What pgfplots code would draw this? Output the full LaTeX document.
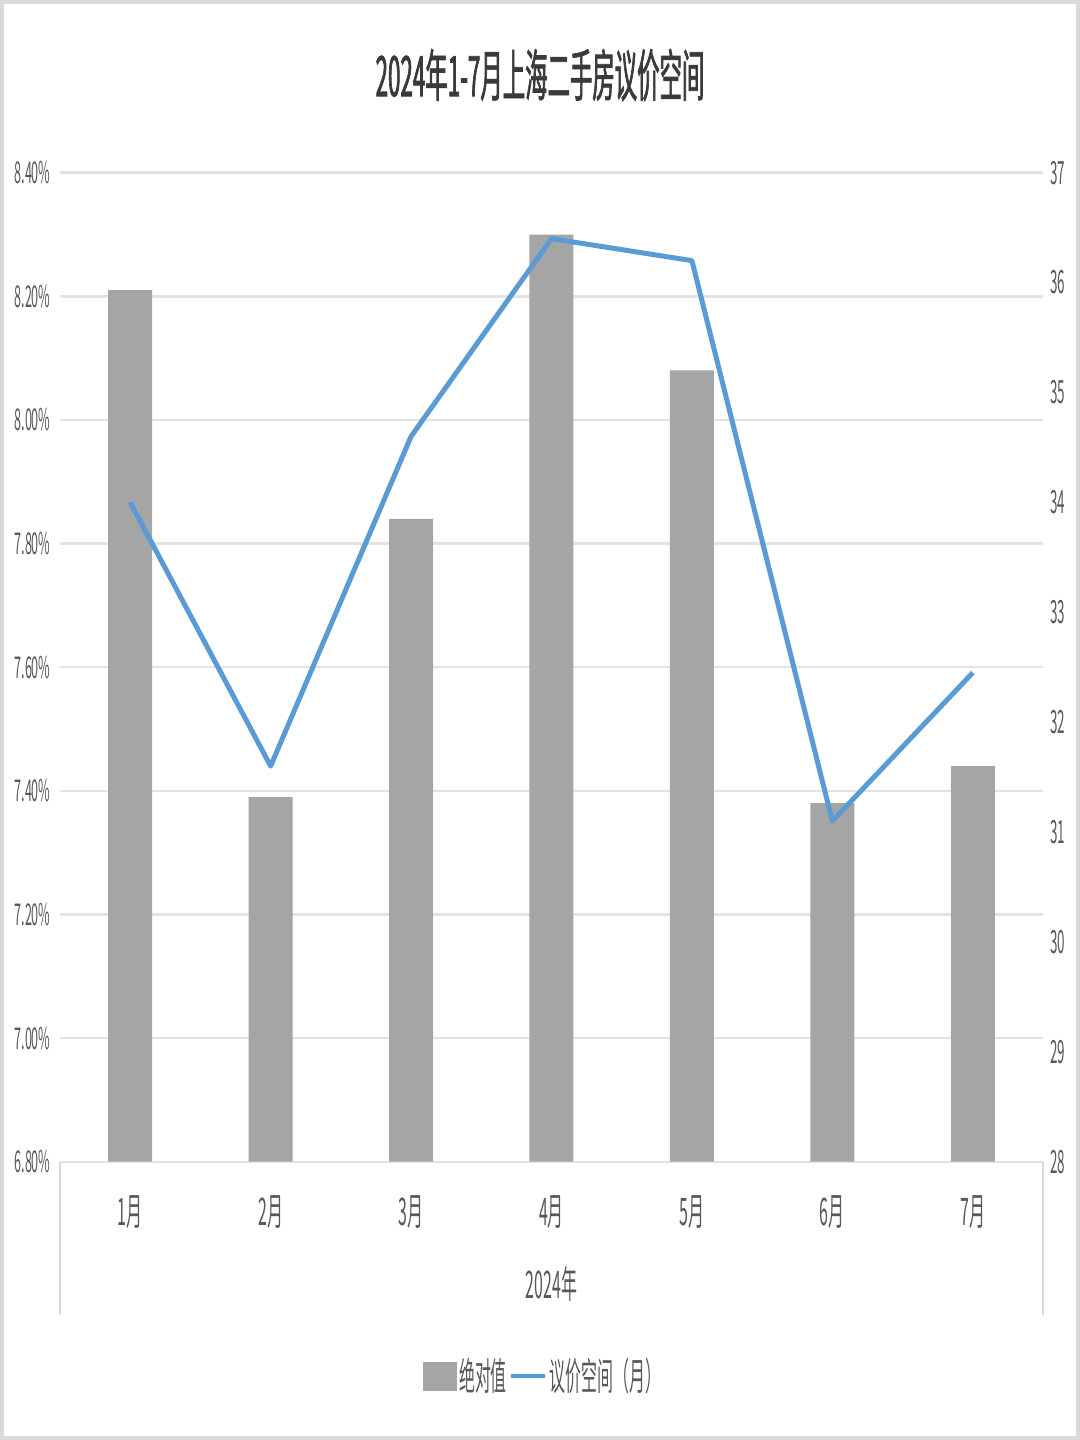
\documentclass[border=0pt]{standalone}
\usepackage{fontspec}
\usepackage{pgfplots}
\pgfplotsset{compat=1.18}
\setmainfont{Noto Sans CJK SC}[FakeStretch=0.42]
\newfontfamily\titlefont{Noto Sans CJK SC}[FakeStretch=0.40, FakeBold=1.2]
\definecolor{barGray}{HTML}{A5A5A5}
\definecolor{lineBlue}{HTML}{5B9BD5}
\definecolor{gridGray}{HTML}{E3E3E3}
\definecolor{txtGray}{HTML}{595959}
\definecolor{titleGray}{HTML}{3A3A3A}
\definecolor{frameGray}{HTML}{D9D9D9}
\begin{document}
\begin{tikzpicture}
\useasboundingbox (-30pt,-139.15pt) rectangle (510pt,580.85pt);
\fill[white] (-30pt,-139.15pt) rectangle (510pt,580.85pt);
\draw[frameGray, line width=2pt] (-29pt,-138.15pt) rectangle (509pt,579.85pt);
\begin{axis}[
  width=491.5pt, height=494.5pt, scale only axis,
  xmin=-0.5, xmax=6.5, ymin=6.8, ymax=8.4,
  xtick={0,1,2,3,4,5,6},
  xticklabels={1月,2月,3月,4月,5月,6月,7月},
  ytick={6.8,7.0,7.2,7.4,7.6,7.8,8.0,8.2,8.4},
  yticklabels={6.80\%,7.00\%,7.20\%,7.40\%,7.60\%,7.80\%,8.00\%,8.20\%,8.40\%},
  ymajorgrids, grid style={draw=gridGray, line width=1.2pt},
  axis line style={draw=none},
  major tick length=0pt,
  xticklabel style={anchor=center, yshift=-25pt, font=\fontsize{19}{19}\selectfont, text=txtGray},
  yticklabel style={anchor=east, inner sep=0pt, xshift=-4.5pt, font=\fontsize{15}{15}\selectfont, text=txtGray},
  clip=false,
]
\addplot[ybar, bar width=22pt, fill=barGray, draw=none] coordinates {
  (0,8.21) (1,7.39) (2,7.84) (3,8.30) (4,8.08) (5,7.38) (6,7.44)
};
\end{axis}
\begin{axis}[
  width=491.5pt, height=494.5pt, scale only axis,
  xmin=-0.5, xmax=6.5, ymin=28, ymax=37,
  axis y line*=right, hide x axis,
  ytick={28,29,30,31,32,33,34,35,36,37},
  yticklabels={28,29,30,31,32,33,34,35,36,37},
  axis line style={draw=none},
  major tick length=0pt,
  yticklabel style={anchor=west, inner sep=0pt, xshift=3.5pt, font=\fontsize{16}{16}\selectfont, text=txtGray},
  legend style={draw=none, fill=none, at={(0.4915,-0.2167)}, anchor=center,
    legend columns=2, font=\fontsize{19}{19}\selectfont, text=txtGray,
    /tikz/every even column/.append style={column sep=0pt},
    nodes={inner sep=1pt}},
]
\addlegendimage{legend image code/.code={\fill[barGray] (0pt,-7pt) rectangle (16.5pt,7pt);}}
\addlegendentry{绝对值}
\addplot[lineBlue, line width=2.5pt, line join=round,
  legend image code/.code={\draw[lineBlue, line width=2.2pt] (0pt,0pt) -- (17pt,0pt);}]
  coordinates {
  (0,34.0) (1,31.6) (2,34.6) (3,36.4) (4,36.2) (5,31.1) (6,32.45)
};
\addlegendentry{议价空间（月）}
\end{axis}
\draw[frameGray, line width=0.8pt] (0pt,0pt) -- (0pt,-76.65pt);
\draw[frameGray, line width=0.8pt] (491.5pt,0pt) -- (491.5pt,-76.65pt);
\node[font=\fontsize{19}{19}\selectfont, text=txtGray] at (245.75pt,-61pt) {2024年};
\node[font=\titlefont\fontsize{28}{28}\selectfont, text=titleGray] at (240pt,543.35pt) {2024年1-7月上海二手房议价空间};
\end{tikzpicture}
\end{document}
